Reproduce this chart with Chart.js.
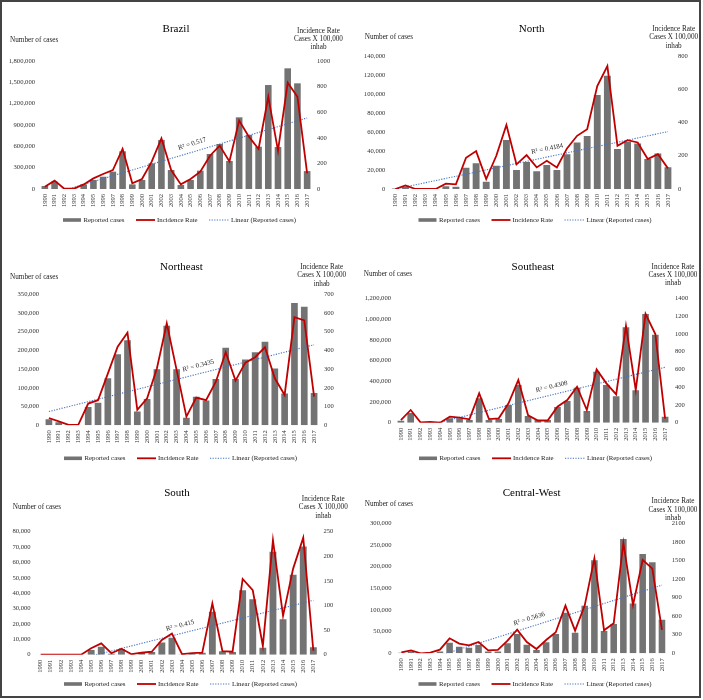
<!DOCTYPE html>
<html>
<head>
<meta charset="utf-8">
<script src="https://cdn.jsdelivr.net/npm/chart.js@4.4.1/dist/chart.umd.min.js"></script>
<style>
  body { margin: 0; background: #fff; }
  #frame { position: absolute; left: 0; top: 0; width: 701px; height: 698px; border: 2px solid #444; box-sizing: border-box; pointer-events: none; }
  canvas { position: absolute; }
</style>
</head>
<body>
<div id="charts"></div>
<div id="frame"></div>
<script>
// Categories
const years = ['1990','1991','1992','1993','1994','1995','1996','1997','1998','1999','2000','2001','2002','2003',
               '2004','2005','2006','2007','2008','2009','2010','2011','2012','2013','2014','2015','2016','2017'];

const regionNames = ['Brazil', 'North', 'Northeast', 'Southeast', 'South', 'Central-West'];
const r2Labels = ['R\u00B2 = 0.517', 'R\u00B2 = 0.4184', 'R\u00B2 = 0.3435', 'R\u00B2 = 0.4308', 'R\u00B2 = 0.415', 'R\u00B2 = 0.5636'];

// Reported cases per year (left axis)
const brazilCases = [42000,103000,2000,5000,65000,127000,173000,244000,530000,65000,127000,360000,690000,267000,
                     56000,127000,258000,492000,633000,394000,1008000,760000,595000,1462000,590000,1697000,1486000,252000];
const northCases = [500,2500,0,0,0,3000,2500,22500,27000,7700,24500,51600,20000,28400,
                    18600,25300,20000,36500,49000,55800,99000,119300,42000,49800,48000,31600,37500,22800];
const northeastCases = [16000,8000,0,0,49000,60000,126000,190000,227000,37000,70000,150000,266000,150000,
                        20000,76000,66000,124000,207000,124000,176000,195000,223000,152000,85000,327000,317000,86000];
const southeastCases = [19000,93000,0,0,3000,42000,42000,26000,235000,26000,35000,170000,363000,64000,
                        26000,26000,151000,209000,338000,113000,492000,363000,254000,920000,312000,1048000,849000,58000];
const southCases = [0,0,0,0,0,3000,5200,600,3500,200,1300,1700,8000,11000,
                    200,400,1300,28000,2200,1700,42000,36000,4600,67000,23000,52000,70300,4800];
const centralWestCases = [1500,4000,0,0,4000,24600,15400,13000,19000,4000,4000,23000,44600,20000,
                          7700,25400,44600,93800,47700,110000,215000,51500,67700,264000,115000,229000,210000,77700];

// Incidence rate per 100,000 inhabitants (right axis)
const brazilRate = [18,65,2,3,36,83,117,148,313,44,78,214,396,148,36,78,135,260,339,216,534,409,313,721,300,831,721,122];
const northRate = [0,22,0,0,0,32,28,188,228,60,200,385,148,204,130,170,130,244,320,360,619,739,260,294,280,180,210,124];
const northeastRate = [39,21,2,4,116,134,276,420,495,82,144,305,545,296,46,148,134,233,390,239,335,364,417,251,162,578,560,153];
const southeastRate = [30,143,4,8,0,68,56,38,330,41,49,218,480,83,25,25,180,255,405,143,600,443,319,1089,368,1224,998,45];
const southRate = [0,0,0,0,0,13,23,3,12,1,4,6,30,43,1,3,4,104,7,6,154,131,18,233,79,175,238,8];
const centralWestRate = [16,48,0,11,59,242,156,129,183,48,54,205,382,183,70,215,339,770,366,775,1535,372,485,1782,781,1508,1368,377];

// Axis ranges (tick labels)
const casesMax = [1800000, 140000, 350000, 1200000, 80000, 300000];
const casesStep = [300000, 20000, 50000, 200000, 10000, 50000];
const rateMax = [1000, 800, 700, 1400, 250, 2100];
const rateStep = [200, 200, 100, 200, 50, 300];

const caseSeries = [brazilCases, northCases, northeastCases, southeastCases, southCases, centralWestCases];
const rateSeries = [brazilRate, northRate, northeastRate, southeastRate, southRate, centralWestRate];

// Panel placement and text positions
const layouts = [
    { x: 0,   y: 0,   w: 352, h: 240, left: 40,   right: 312,   top: 61,   bottom: 189,   titleY: 29.3, numX: 10,   numY: 40,   rateX: 318.5, rateY: 31,   r2At: 15.4, legX: 63,   legY: 220 },
    { x: 352, y: 0,   w: 351, h: 240, left: 38.3, right: 321,   top: 56,   bottom: 189,   titleY: 29.3, numX: 12.7, numY: 36.7, rateX: 321.7, rateY: 29.3, r2At: 15.2, legX: 66.5, legY: 220 },
    { x: 0,   y: 230, w: 352, h: 240, left: 44,   right: 319,   top: 64.3, bottom: 195.3, titleY: 37.3, numX: 10,   numY: 47.3, rateX: 321.7, rateY: 37.3, r2At: 15.4, legX: 64,   legY: 228.3 },
    { x: 352, y: 230, w: 351, h: 240, left: 44,   right: 318,   top: 68.3, bottom: 192.7, titleY: 36.7, numX: 11.7, numY: 44.3, rateX: 321,   rateY: 36.7, r2At: 15.6, legX: 67,   legY: 228.3 },
    { x: 0,   y: 460, w: 352, h: 240, left: 35.6, right: 318.4, top: 71.7, bottom: 194.7, titleY: 33.3, numX: 12.7, numY: 47.3, rateX: 323.3, rateY: 39.3, r2At: 14,   legX: 64,   legY: 224 },
    { x: 352, y: 460, w: 351, h: 240, left: 44.5, right: 314.8, top: 63.3, bottom: 193.3, titleY: 33.3, numX: 12.7, numY: 44,   rateX: 321,   rateY: 41.5, r2At: 13.5, legX: 66.5, legY: 224 }
];

const SERIF = '"Liberation Serif", "Times New Roman", serif';
const BAR_COLOR = '#737373';
const RATE_COLOR = '#C00000';
const TREND_COLOR = '#4472C4';

/**
 * Least squares fit of the reported cases (Excel linear trendline)
 */
function linearFit(values) {
    const n = values.length;
    let sx = 0, sy = 0, sxx = 0, sxy = 0;
    values.forEach((v, i) => { sx += i; sy += v; sxx += i * i; sxy += i * v; });
    const slope = (n * sxy - sx * sy) / (n * sxx - sx * sx);
    const icpt = (sy - slope * sx) / n;
    return { slope: slope, icpt: icpt, points: values.map((v, i) => icpt + slope * i) };
}

const fits = caseSeries.map(linearFit);

/**
 * Titles, axis captions, R² label and legend for each panel
 */
const panelText = {
    id: 'panelText',
    afterDraw(chart, args, opts) {
        const i = opts.idx;
        const lay = layouts[i];
        const ctx = chart.ctx;
        const a = chart.chartArea;
        ctx.save();
        ctx.textBaseline = 'middle';

        // title
        ctx.fillStyle = '#000';
        ctx.textAlign = 'center';
        ctx.font = '11px ' + SERIF;
        ctx.fillText(regionNames[i], (a.left + a.right) / 2, lay.titleY);

        // axis captions
        ctx.fillStyle = '#222';
        ctx.font = '7.2px ' + SERIF;
        ctx.textAlign = 'left';
        ctx.fillText('Number of cases', lay.numX, lay.numY);
        ctx.textAlign = 'center';
        ['Incidence Rate', 'Cases X 100,000', 'inhab'].forEach((t, k) => {
            ctx.fillText(t, lay.rateX, lay.rateY + k * 8.2);
        });

        // R² label along the trend line
        const fit = fits[i];
        const xs = chart.scales.x, ys = chart.scales.y;
        const at = lay.r2At;
        const x0 = xs.getPixelForValue(at), y0 = ys.getPixelForValue(fit.icpt + fit.slope * at);
        const x1 = xs.getPixelForValue(at + 1), y1 = ys.getPixelForValue(fit.icpt + fit.slope * (at + 1));
        ctx.save();
        ctx.translate(x0, y0);
        ctx.rotate(Math.atan2(y1 - y0, x1 - x0));
        ctx.font = '6.8px ' + SERIF;
        ctx.fillStyle = '#222';
        ctx.fillText(r2Labels[i], 0, -8);
        ctx.restore();

        // legend
        const ds = chart.data.datasets;
        const L = lay.legX, Y = lay.legY;
        ctx.font = '6.8px ' + SERIF;
        ctx.textAlign = 'left';
        ctx.fillStyle = BAR_COLOR;
        ctx.fillRect(L, Y - 1.8, 18, 3.6);
        ctx.fillStyle = '#222';
        ctx.fillText(ds[2].label, L + 20.5, Y);

        ctx.strokeStyle = RATE_COLOR;
        ctx.lineWidth = 1.8;
        ctx.beginPath();
        ctx.moveTo(L + 73, Y);
        ctx.lineTo(L + 92, Y);
        ctx.stroke();
        ctx.fillText(ds[0].label, L + 94, Y);

        ctx.strokeStyle = TREND_COLOR;
        ctx.lineWidth = 1.1;
        ctx.setLineDash([1.2, 1.4]);
        ctx.beginPath();
        ctx.moveTo(L + 146, Y);
        ctx.lineTo(L + 166, Y);
        ctx.stroke();
        ctx.setLineDash([]);
        ctx.fillText(ds[1].label, L + 168, Y);

        ctx.restore();
    }
};

function buildPanel(i) {
    const lay = layouts[i];
    const canvas = document.createElement('canvas');
    canvas.width = lay.w;
    canvas.height = lay.h;
    canvas.style.left = lay.x + 'px';
    canvas.style.top = lay.y + 'px';
    document.getElementById('charts').appendChild(canvas);

    const tickFont = { family: SERIF, size: 6.6 };

    new Chart(canvas.getContext('2d'), {
        type: 'bar',
        data: {
            labels: years,
            datasets: [{
                type: 'line',
                label: 'Incidence Rate',
                data: rateSeries[i],
                yAxisID: 'y1',
                borderColor: RATE_COLOR,
                borderWidth: 1.8,
                pointRadius: 0,
                tension: 0,
                order: 0
            }, {
                type: 'line',
                label: 'Linear (Reported cases)',
                data: fits[i].points,
                yAxisID: 'y',
                borderColor: TREND_COLOR,
                borderWidth: 1.1,
                borderDash: [1.2, 1.4],
                pointRadius: 0,
                tension: 0,
                order: 1
            }, {
                type: 'bar',
                label: 'Reported cases',
                data: caseSeries[i],
                yAxisID: 'y',
                backgroundColor: BAR_COLOR,
                categoryPercentage: 1,
                barPercentage: 0.68,
                order: 2
            }]
        },
        options: {
            responsive: false,
            animation: false,
            layout: {
                padding: { left: 0, right: 0, top: lay.top, bottom: 0 }
            },
            plugins: {
                legend: { display: false },
                tooltip: { enabled: false },
                panelText: { idx: i }
            },
            scales: {
                x: {
                    grid: { display: false, drawTicks: false },
                    border: { display: false },
                    ticks: {
                        autoSkip: false,
                        minRotation: 90,
                        maxRotation: 90,
                        padding: 5,
                        color: '#333',
                        font: { family: SERIF, size: 6.5 }
                    },
                    afterFit: function(scale) { scale.height = lay.h - lay.bottom; }
                },
                y: {
                    position: 'left',
                    min: 0,
                    max: casesMax[i],
                    grid: { display: false, drawTicks: false },
                    border: { display: false },
                    ticks: {
                        stepSize: casesStep[i],
                        padding: 5,
                        color: '#333',
                        font: tickFont,
                        callback: function(value) { return value.toLocaleString('en-US'); }
                    },
                    afterFit: function(scale) { scale.width = lay.left; }
                },
                y1: {
                    position: 'right',
                    min: 0,
                    max: rateMax[i],
                    grid: { display: false, drawTicks: false },
                    border: { display: false },
                    ticks: {
                        stepSize: rateStep[i],
                        padding: 5,
                        color: '#333',
                        font: tickFont,
                        callback: function(value) { return String(value); }
                    },
                    afterFit: function(scale) { scale.width = lay.w - lay.right; }
                }
            }
        },
        plugins: [panelText]
    });
}

document.addEventListener('DOMContentLoaded', function() {
    layouts.forEach((lay, i) => buildPanel(i));
});
</script>
</body>
</html>
